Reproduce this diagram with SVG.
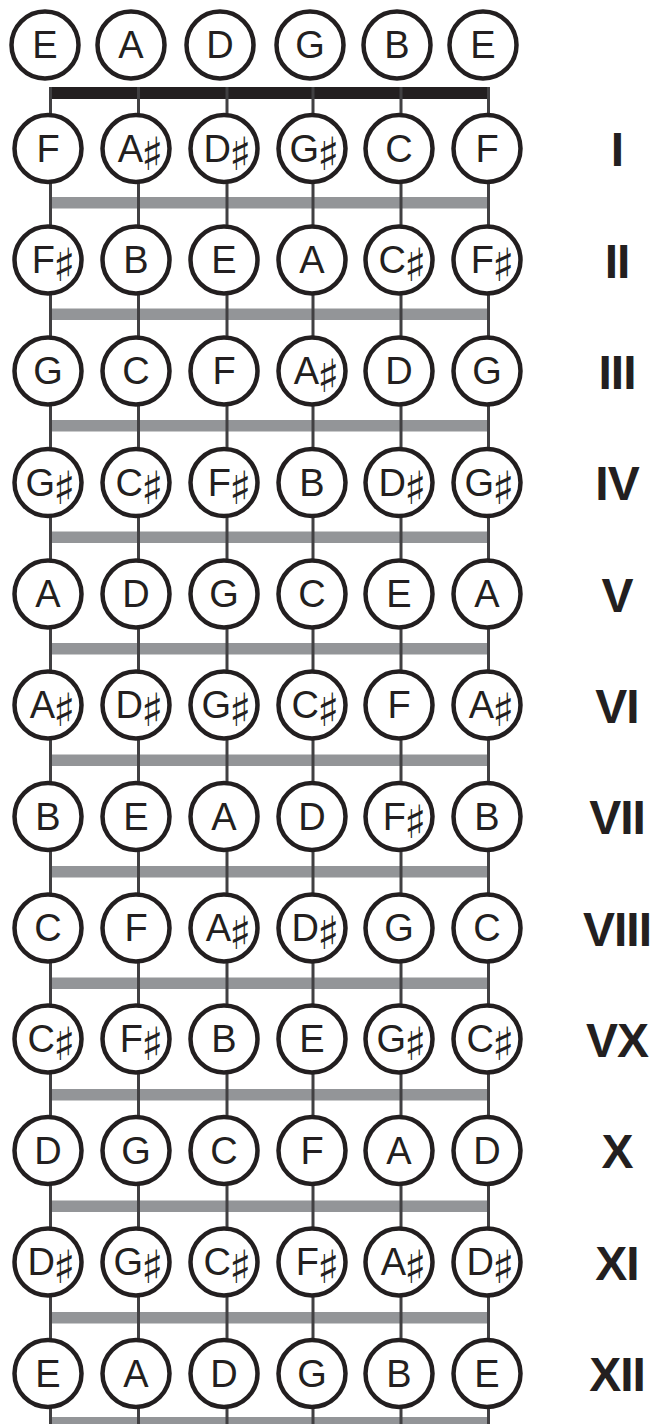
<svg xmlns="http://www.w3.org/2000/svg" width="650" height="1424" viewBox="0 0 650 1424">
<style>
.c{fill:#fff;stroke:#231f20;stroke-width:4.5}
.n{font-family:"Liberation Sans",Arial,sans-serif;font-size:38px;fill:#231f20;text-anchor:middle}
.ns{font-family:"Liberation Sans",Arial,sans-serif;font-size:38px;fill:#231f20;text-anchor:end}
.sh{font-family:"DejaVu Sans",sans-serif;font-size:46px;fill:#231f20;text-anchor:start}
.r{font-family:"Liberation Sans",Arial,sans-serif;font-weight:bold;font-size:48px;fill:#231f20;text-anchor:middle;letter-spacing:-1px}
.fret{fill:#939598}
.str{stroke:#414042;stroke-width:3}
</style>
<rect id="nut" x="50" y="87" width="440" height="12" fill="#231f20"/>
<g id="frets" class="fret">
<rect x="50" y="197" width="440" height="11.5"/>
<rect x="50" y="308.5" width="440" height="11.5"/>
<rect x="50" y="420" width="440" height="11.5"/>
<rect x="50" y="531.5" width="440" height="11.5"/>
<rect x="50" y="643" width="440" height="11.5"/>
<rect x="50" y="754.5" width="440" height="11.5"/>
<rect x="50" y="866" width="440" height="11.5"/>
<rect x="50" y="977.5" width="440" height="11.5"/>
<rect x="50" y="1089" width="440" height="11.5"/>
<rect x="50" y="1200.5" width="440" height="11.5"/>
<rect x="50" y="1312" width="440" height="11.5"/>
<rect x="50" y="1417" width="440" height="11.5"/>
</g>
<g id="connectors" class="str">
<line x1="50.5" y1="87" x2="50.5" y2="1424"/>
<line x1="138.5" y1="87" x2="138.5" y2="1424"/>
<line x1="227" y1="87" x2="227" y2="1424"/>
<line x1="313" y1="87" x2="313" y2="1424"/>
<line x1="401" y1="87" x2="401" y2="1424"/>
<line x1="488.5" y1="87" x2="488.5" y2="1424"/>
</g>
<g id="open">
<g id="o1" transform="translate(45 45)"><circle class="c" r="33.5"/><text class="n" y="13">E</text></g>
<g id="o2" transform="translate(131 45)"><circle class="c" r="33.5"/><text class="n" y="13">A</text></g>
<g id="o3" transform="translate(220 45)"><circle class="c" r="33.5"/><text class="n" y="13">D</text></g>
<g id="o4" transform="translate(310 45)"><circle class="c" r="33.5"/><text class="n" y="13">G</text></g>
<g id="o5" transform="translate(397 45)"><circle class="c" r="33.5"/><text class="n" y="13">B</text></g>
<g id="o6" transform="translate(483 45)"><circle class="c" r="33.5"/><text class="n" y="13">E</text></g>
</g>
<g id="fret1">
<g id="f1s1" transform="translate(48 148.5)"><circle class="c" r="33.5"/><text class="n" y="13">F</text></g>
<g id="f1s2" transform="translate(136 148.5)"><circle class="c" r="33.5"/><text class="ns" x="7" y="13">A</text><text class="sh" x="5" y="21">♯</text></g>
<g id="f1s3" transform="translate(224 148.5)"><circle class="c" r="33.5"/><text class="ns" x="7" y="13">D</text><text class="sh" x="5" y="21">♯</text></g>
<g id="f1s4" transform="translate(312 148.5)"><circle class="c" r="33.5"/><text class="ns" x="7" y="13">G</text><text class="sh" x="5" y="21">♯</text></g>
<g id="f1s5" transform="translate(399 148.5)"><circle class="c" r="33.5"/><text class="n" y="13">C</text></g>
<g id="f1s6" transform="translate(487 148.5)"><circle class="c" r="33.5"/><text class="n" y="13">F</text></g>
<text class="r" x="617" y="166">I</text>
</g>
<g id="fret2">
<g id="f2s1" transform="translate(48 260)"><circle class="c" r="33.5"/><text class="ns" x="7" y="13">F</text><text class="sh" x="5" y="21">♯</text></g>
<g id="f2s2" transform="translate(136 260)"><circle class="c" r="33.5"/><text class="n" y="13">B</text></g>
<g id="f2s3" transform="translate(224 260)"><circle class="c" r="33.5"/><text class="n" y="13">E</text></g>
<g id="f2s4" transform="translate(312 260)"><circle class="c" r="33.5"/><text class="n" y="13">A</text></g>
<g id="f2s5" transform="translate(399 260)"><circle class="c" r="33.5"/><text class="ns" x="7" y="13">C</text><text class="sh" x="5" y="21">♯</text></g>
<g id="f2s6" transform="translate(487 260)"><circle class="c" r="33.5"/><text class="ns" x="7" y="13">F</text><text class="sh" x="5" y="21">♯</text></g>
<text class="r" x="617" y="277.5">II</text>
</g>
<g id="fret3">
<g id="f3s1" transform="translate(48 371)"><circle class="c" r="33.5"/><text class="n" y="13">G</text></g>
<g id="f3s2" transform="translate(136 371)"><circle class="c" r="33.5"/><text class="n" y="13">C</text></g>
<g id="f3s3" transform="translate(224 371)"><circle class="c" r="33.5"/><text class="n" y="13">F</text></g>
<g id="f3s4" transform="translate(312 371)"><circle class="c" r="33.5"/><text class="ns" x="7" y="13">A</text><text class="sh" x="5" y="21">♯</text></g>
<g id="f3s5" transform="translate(399 371)"><circle class="c" r="33.5"/><text class="n" y="13">D</text></g>
<g id="f3s6" transform="translate(487 371)"><circle class="c" r="33.5"/><text class="n" y="13">G</text></g>
<text class="r" x="617" y="388.5">III</text>
</g>
<g id="fret4">
<g id="f4s1" transform="translate(48 482.5)"><circle class="c" r="33.5"/><text class="ns" x="7" y="13">G</text><text class="sh" x="5" y="21">♯</text></g>
<g id="f4s2" transform="translate(136 482.5)"><circle class="c" r="33.5"/><text class="ns" x="7" y="13">C</text><text class="sh" x="5" y="21">♯</text></g>
<g id="f4s3" transform="translate(224 482.5)"><circle class="c" r="33.5"/><text class="ns" x="7" y="13">F</text><text class="sh" x="5" y="21">♯</text></g>
<g id="f4s4" transform="translate(312 482.5)"><circle class="c" r="33.5"/><text class="n" y="13">B</text></g>
<g id="f4s5" transform="translate(399 482.5)"><circle class="c" r="33.5"/><text class="ns" x="7" y="13">D</text><text class="sh" x="5" y="21">♯</text></g>
<g id="f4s6" transform="translate(487 482.5)"><circle class="c" r="33.5"/><text class="ns" x="7" y="13">G</text><text class="sh" x="5" y="21">♯</text></g>
<text class="r" x="617" y="500">IV</text>
</g>
<g id="fret5">
<g id="f5s1" transform="translate(48 594)"><circle class="c" r="33.5"/><text class="n" y="13">A</text></g>
<g id="f5s2" transform="translate(136 594)"><circle class="c" r="33.5"/><text class="n" y="13">D</text></g>
<g id="f5s3" transform="translate(224 594)"><circle class="c" r="33.5"/><text class="n" y="13">G</text></g>
<g id="f5s4" transform="translate(312 594)"><circle class="c" r="33.5"/><text class="n" y="13">C</text></g>
<g id="f5s5" transform="translate(399 594)"><circle class="c" r="33.5"/><text class="n" y="13">E</text></g>
<g id="f5s6" transform="translate(487 594)"><circle class="c" r="33.5"/><text class="n" y="13">A</text></g>
<text class="r" x="617" y="611.5">V</text>
</g>
<g id="fret6">
<g id="f6s1" transform="translate(48 705)"><circle class="c" r="33.5"/><text class="ns" x="7" y="13">A</text><text class="sh" x="5" y="21">♯</text></g>
<g id="f6s2" transform="translate(136 705)"><circle class="c" r="33.5"/><text class="ns" x="7" y="13">D</text><text class="sh" x="5" y="21">♯</text></g>
<g id="f6s3" transform="translate(224 705)"><circle class="c" r="33.5"/><text class="ns" x="7" y="13">G</text><text class="sh" x="5" y="21">♯</text></g>
<g id="f6s4" transform="translate(312 705)"><circle class="c" r="33.5"/><text class="ns" x="7" y="13">C</text><text class="sh" x="5" y="21">♯</text></g>
<g id="f6s5" transform="translate(399 705)"><circle class="c" r="33.5"/><text class="n" y="13">F</text></g>
<g id="f6s6" transform="translate(487 705)"><circle class="c" r="33.5"/><text class="ns" x="7" y="13">A</text><text class="sh" x="5" y="21">♯</text></g>
<text class="r" x="617" y="722.5">VI</text>
</g>
<g id="fret7">
<g id="f7s1" transform="translate(48 816.5)"><circle class="c" r="33.5"/><text class="n" y="13">B</text></g>
<g id="f7s2" transform="translate(136 816.5)"><circle class="c" r="33.5"/><text class="n" y="13">E</text></g>
<g id="f7s3" transform="translate(224 816.5)"><circle class="c" r="33.5"/><text class="n" y="13">A</text></g>
<g id="f7s4" transform="translate(312 816.5)"><circle class="c" r="33.5"/><text class="n" y="13">D</text></g>
<g id="f7s5" transform="translate(399 816.5)"><circle class="c" r="33.5"/><text class="ns" x="7" y="13">F</text><text class="sh" x="5" y="21">♯</text></g>
<g id="f7s6" transform="translate(487 816.5)"><circle class="c" r="33.5"/><text class="n" y="13">B</text></g>
<text class="r" x="617" y="834">VII</text>
</g>
<g id="fret8">
<g id="f8s1" transform="translate(48 928)"><circle class="c" r="33.5"/><text class="n" y="13">C</text></g>
<g id="f8s2" transform="translate(136 928)"><circle class="c" r="33.5"/><text class="n" y="13">F</text></g>
<g id="f8s3" transform="translate(224 928)"><circle class="c" r="33.5"/><text class="ns" x="7" y="13">A</text><text class="sh" x="5" y="21">♯</text></g>
<g id="f8s4" transform="translate(312 928)"><circle class="c" r="33.5"/><text class="ns" x="7" y="13">D</text><text class="sh" x="5" y="21">♯</text></g>
<g id="f8s5" transform="translate(399 928)"><circle class="c" r="33.5"/><text class="n" y="13">G</text></g>
<g id="f8s6" transform="translate(487 928)"><circle class="c" r="33.5"/><text class="n" y="13">C</text></g>
<text class="r" x="617" y="945.5">VIII</text>
</g>
<g id="fret9">
<g id="f9s1" transform="translate(48 1039)"><circle class="c" r="33.5"/><text class="ns" x="7" y="13">C</text><text class="sh" x="5" y="21">♯</text></g>
<g id="f9s2" transform="translate(136 1039)"><circle class="c" r="33.5"/><text class="ns" x="7" y="13">F</text><text class="sh" x="5" y="21">♯</text></g>
<g id="f9s3" transform="translate(224 1039)"><circle class="c" r="33.5"/><text class="n" y="13">B</text></g>
<g id="f9s4" transform="translate(312 1039)"><circle class="c" r="33.5"/><text class="n" y="13">E</text></g>
<g id="f9s5" transform="translate(399 1039)"><circle class="c" r="33.5"/><text class="ns" x="7" y="13">G</text><text class="sh" x="5" y="21">♯</text></g>
<g id="f9s6" transform="translate(487 1039)"><circle class="c" r="33.5"/><text class="ns" x="7" y="13">C</text><text class="sh" x="5" y="21">♯</text></g>
<text class="r" x="617" y="1056.5">VX</text>
</g>
<g id="fret10">
<g id="f10s1" transform="translate(48 1150.5)"><circle class="c" r="33.5"/><text class="n" y="13">D</text></g>
<g id="f10s2" transform="translate(136 1150.5)"><circle class="c" r="33.5"/><text class="n" y="13">G</text></g>
<g id="f10s3" transform="translate(224 1150.5)"><circle class="c" r="33.5"/><text class="n" y="13">C</text></g>
<g id="f10s4" transform="translate(312 1150.5)"><circle class="c" r="33.5"/><text class="n" y="13">F</text></g>
<g id="f10s5" transform="translate(399 1150.5)"><circle class="c" r="33.5"/><text class="n" y="13">A</text></g>
<g id="f10s6" transform="translate(487 1150.5)"><circle class="c" r="33.5"/><text class="n" y="13">D</text></g>
<text class="r" x="617" y="1168">X</text>
</g>
<g id="fret11">
<g id="f11s1" transform="translate(48 1262)"><circle class="c" r="33.5"/><text class="ns" x="7" y="13">D</text><text class="sh" x="5" y="21">♯</text></g>
<g id="f11s2" transform="translate(136 1262)"><circle class="c" r="33.5"/><text class="ns" x="7" y="13">G</text><text class="sh" x="5" y="21">♯</text></g>
<g id="f11s3" transform="translate(224 1262)"><circle class="c" r="33.5"/><text class="ns" x="7" y="13">C</text><text class="sh" x="5" y="21">♯</text></g>
<g id="f11s4" transform="translate(312 1262)"><circle class="c" r="33.5"/><text class="ns" x="7" y="13">F</text><text class="sh" x="5" y="21">♯</text></g>
<g id="f11s5" transform="translate(399 1262)"><circle class="c" r="33.5"/><text class="ns" x="7" y="13">A</text><text class="sh" x="5" y="21">♯</text></g>
<g id="f11s6" transform="translate(487 1262)"><circle class="c" r="33.5"/><text class="ns" x="7" y="13">D</text><text class="sh" x="5" y="21">♯</text></g>
<text class="r" x="617" y="1279.5">XI</text>
</g>
<g id="fret12">
<g id="f12s1" transform="translate(48 1373.5)"><circle class="c" r="33.5"/><text class="n" y="13">E</text></g>
<g id="f12s2" transform="translate(136 1373.5)"><circle class="c" r="33.5"/><text class="n" y="13">A</text></g>
<g id="f12s3" transform="translate(224 1373.5)"><circle class="c" r="33.5"/><text class="n" y="13">D</text></g>
<g id="f12s4" transform="translate(312 1373.5)"><circle class="c" r="33.5"/><text class="n" y="13">G</text></g>
<g id="f12s5" transform="translate(399 1373.5)"><circle class="c" r="33.5"/><text class="n" y="13">B</text></g>
<g id="f12s6" transform="translate(487 1373.5)"><circle class="c" r="33.5"/><text class="n" y="13">E</text></g>
<text class="r" x="617" y="1391">XII</text>
</g>
</svg>
